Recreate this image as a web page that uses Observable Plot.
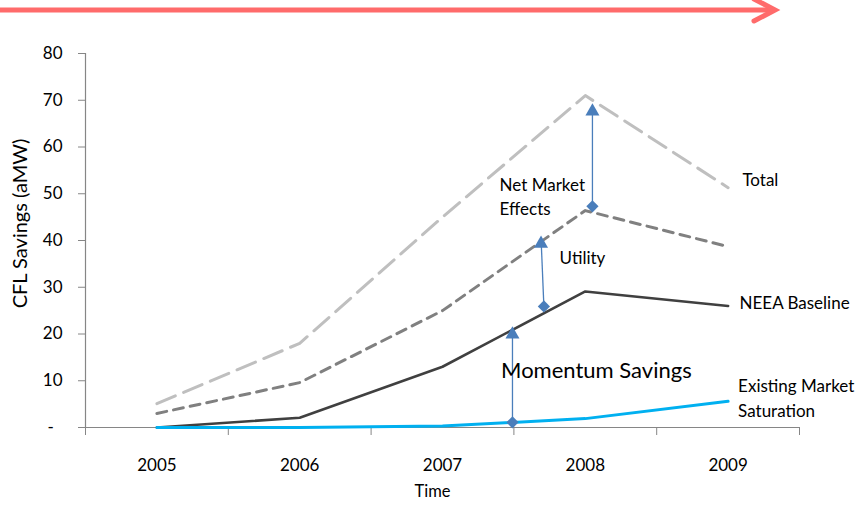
<!DOCTYPE html>
<html>
<head>
<meta charset="utf-8">
<script src="https://cdn.jsdelivr.net/npm/d3@7"></script>
<script src="https://cdn.jsdelivr.net/npm/@observablehq/plot@0.6"></script>
<style>
  html, body { margin: 0; padding: 0; background: #fff; }
  #wrap { position: relative; width: 863px; height: 508px; }
  #deco { position: absolute; left: 0; top: 0; }
</style>
</head>
<body>
<div id="wrap">
  <svg id="deco" width="863" height="30">
    <line x1="0" y1="10" x2="773" y2="10" stroke="#FF6B6B" stroke-width="5"/>
    <polyline points="754,-1 775,10 754,21" fill="none" stroke="#FF6B6B" stroke-width="5" stroke-linecap="round" stroke-linejoin="miter"/>
  </svg>
</div>
<script>
// ---- data ----
const years = [2005, 2006, 2007, 2008, 2009];
const total = [5.1, 18, 45, 71, 51.3];
const utility = [3.0, 9.6, 25, 46.4, 38.7];
const neeaBaseline = [0, 2.1, 13, 29.1, 26];
const marketSaturation = [0, 0, 0.3, 1.9, 5.6];

const yTicks = [0, 10, 20, 30, 40, 50, 60, 70, 80];
const xBoundaries = [2004.5, 2005.5, 2006.5, 2007.5, 2008.5, 2009.5];

// effect arrows: base (diamond) and tip (triangle)
const arrowX1 = [2007.49, 2007.71, 2008.05];
const arrowX2 = [2007.49, 2007.69, 2008.05];
const arrowFrom = [1.1, 25.9, 47.3];
const arrowTo = [21.2, 40.6, 68.9];

// annotation labels
const labelText = ["Net Market", "Effects", "Utility", "Momentum Savings", "Total", "NEEA Baseline", "Existing Market", "Saturation"];
const labelX = [2007.40, 2007.40, 2007.82, 2007.41, 2009.10, 2009.08, 2009.07, 2009.07];
const labelY = [51.8, 46.6, 36.1, 12.2, 52.8, 26.5, 8.8, 3.4];
const labelBig = [false, false, false, true, false, false, false, false];

// ---- build tables ----
const series = (vals) => years.map((yr, i) => ({year: yr, value: vals[i]}));
const arrows = arrowX1.map((x, i) => ({x1: x, x2: arrowX2[i], y1: arrowFrom[i], y2: arrowTo[i]}));
const labels = labelText.map((t, i) => ({text: t, x: labelX[i], y: labelY[i], big: labelBig[i]}));

const axisColor = "#868686";
const arrowColor = "#4A7EBB";

const chart = Plot.plot({
  width: 863,
  height: 508,
  marginLeft: 85,
  marginRight: 64,
  marginTop: 53,
  marginBottom: 81,
  style: {fontFamily: "Lato, sans-serif", background: "transparent", color: "#000"},
  x: {domain: [2004.5, 2009.5]},
  y: {domain: [0, 80]},
  marks: [
    Plot.ruleX([2004.5], {y1: 0, y2: 80, stroke: axisColor, strokeWidth: 1.2}),
    Plot.ruleY([0], {stroke: axisColor, strokeWidth: 1.2}),
    Plot.axisY({ticks: yTicks, tickSize: 7, tickPadding: 16, fontSize: 17, stroke: axisColor,
      tickFormat: d => d === 0 ? "-\u00a0\u00a0" : String(d), label: null}),
    Plot.axisX({ticks: xBoundaries, tickSize: 8, stroke: axisColor, tickFormat: () => "", label: null}),
    Plot.axisX({ticks: years, tickSize: 0, tickPadding: 31, fontSize: 17, tickFormat: d => String(d), label: null}),
    Plot.text(["Time"], {frameAnchor: "bottom", dy: 69, dx: -10, fontSize: 16.5}),
    Plot.text(["CFL Savings (aMW)"], {frameAnchor: "left", textAnchor: "middle", dx: -65, dy: -17, rotate: -90, fontSize: 20}),

    Plot.line(series(total), {x: "year", y: "value", stroke: "#BFBFBF", strokeWidth: 3, strokeDasharray: "20 9"}),
    Plot.line(series(utility), {x: "year", y: "value", stroke: "#808080", strokeWidth: 3, strokeDasharray: "10 7"}),
    Plot.line(series(neeaBaseline), {x: "year", y: "value", stroke: "#404040", strokeWidth: 2.6}),
    Plot.line(series(marketSaturation), {x: "year", y: "value", stroke: "#00B0F0", strokeWidth: 3}),

    Plot.link(arrows, {x1: "x1", y1: "y1", x2: "x2", y2: "y2", stroke: arrowColor, strokeWidth: 1.3}),
    Plot.dot(arrows, {x: "x2", y: "y2", symbol: "triangle", r: 5.2, fill: arrowColor, stroke: "none", dy: 6}),
    Plot.dot(arrows, {x: "x1", y: "y1", symbol: "diamond2", r: 5.5, fill: arrowColor, stroke: "none"}),

    Plot.text(labels.filter(d => !d.big), {x: "x", y: "y", text: "text", textAnchor: "start", fontSize: 17, fill: "#000"}),
    Plot.text(labels.filter(d => d.big), {x: "x", y: "y", text: "text", textAnchor: "start", fontSize: 22, fill: "#000"})
  ]
});
document.getElementById("wrap").insertBefore(chart, document.getElementById("deco"));
</script>
</body>
</html>
